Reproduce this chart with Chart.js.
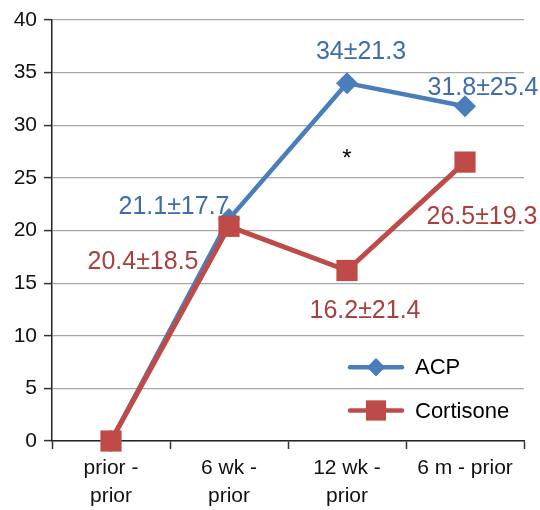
<!DOCTYPE html>
<html>
<head>
<meta charset="utf-8">
<script src="https://cdn.jsdelivr.net/npm/chart.js@4.4.1/dist/chart.umd.min.js"></script>
<style>
  body { margin: 0; background: #fff; }
  #chart { display: block; }
</style>
</head>
<body>
<canvas id="chart" width="540" height="510"></canvas>
<script>
const categories = [['prior -', 'prior'], ['6 wk -', 'prior'], ['12 wk -', 'prior'], '6 m - prior'];
const acpValues = [0, 21.1, 34, 31.8];
const cortisoneValues = [0, 20.4, 16.2, 26.5];
const acpLabels = ['', '21.1±17.7', '34±21.3', '31.8±25.4'];
const cortisoneLabels = ['', '20.4±18.5', '16.2±21.4', '26.5±19.3'];
const yTicks = [0, 5, 10, 15, 20, 25, 30, 35, 40];
const starCategory = 2;   // significance mark at 12 wk
const starValue = 26.8;

const blue = '#4A7EBB';
const red = '#BE4B48';
const blueText = '#3E6DAA';
const redText = '#A8403D';
const fontFamily = '"Liberation Sans", Arial, sans-serif';

// label placement relative to its point (pixels)
const acpOffsets = [null, [-55, -12], [14, -31], [18, -18]];
const cortisoneOffsets = [null, [-86, 36], [18, 41], [17, 55]];

const annotations = {
    id: 'annotations',
    afterDatasetsDraw(chart) {
        const ctx = chart.ctx;
        const x = chart.scales.x;
        const y = chart.scales.y;
        ctx.save();
        ctx.font = '25px ' + fontFamily;
        ctx.textAlign = 'center';
        ctx.textBaseline = 'middle';

        function drawLabels(values, labels, offsets, color) {
            ctx.fillStyle = color;
            values.forEach(function(v, i) {
                if (!labels[i]) return;
                const px = x.getPixelForValue(i) + offsets[i][0];
                const py = y.getPixelForValue(v) + offsets[i][1];
                ctx.fillText(labels[i], px, py);
            });
        }
        drawLabels(acpValues, acpLabels, acpOffsets, blueText);
        drawLabels(cortisoneValues, cortisoneLabels, cortisoneOffsets, redText);

        // asterisk
        ctx.fillStyle = '#000';
        ctx.font = '24px ' + fontFamily;
        ctx.fillText('*', x.getPixelForValue(starCategory), y.getPixelForValue(starValue));

        // legend inside the plot
        const items = [
            { text: 'ACP', color: blue, style: 'rectRot', radius: 9, value: 7.0 },
            { text: 'Cortisone', color: red, style: 'rect', radius: 14, value: 2.9 }
        ];
        const lx1 = 350, lx2 = 402;
        items.forEach(function(it) {
            const py = y.getPixelForValue(it.value);
            ctx.strokeStyle = it.color;
            ctx.lineWidth = 4.5;
            ctx.lineCap = 'round';
            ctx.beginPath();
            ctx.moveTo(lx1, py);
            ctx.lineTo(lx2, py);
            ctx.stroke();
            ctx.fillStyle = it.color;
            Chart.helpers.drawPoint(ctx, { pointStyle: it.style, radius: it.radius, borderWidth: 0 }, (lx1 + lx2) / 2, py);
            ctx.fill();
            ctx.fillStyle = '#000';
            ctx.font = '22px ' + fontFamily;
            ctx.textAlign = 'left';
            ctx.fillText(it.text, 415, py + 1);
        });
        ctx.restore();
    }
};

new Chart(document.getElementById('chart'), {
    type: 'line',
    data: {
        labels: categories,
        datasets: [{
            label: 'ACP',
            data: acpValues,
            borderColor: blue,
            backgroundColor: blue,
            borderWidth: 4.5,
            pointStyle: 'rectRot',
            pointRadius: 11,
            pointHoverRadius: 11,
            pointBorderWidth: 0,
            tension: 0,
            clip: false,
            order: 1
        }, {
            label: 'Cortisone',
            data: cortisoneValues,
            borderColor: red,
            backgroundColor: red,
            borderWidth: 5,
            pointStyle: 'rect',
            pointRadius: 15,
            pointHoverRadius: 15,
            pointBorderWidth: 0,
            tension: 0,
            clip: false,
            order: 0
        }]
    },
    options: {
        responsive: false,
        animation: false,
        layout: { padding: { top: 20, right: 16, left: 0, bottom: 0 } },
        plugins: {
            legend: { display: false },
            tooltip: { enabled: false }
        },
        scales: {
            x: {
                offset: true,
                afterFit: function(s) { s.height = 69; },
                grid: {
                    display: true,
                    offset: true,
                    drawOnChartArea: false,
                    tickLength: 8,
                    tickColor: '#333',
                    tickWidth: 1.5
                },
                border: { color: '#222', width: 1.5 },
                ticks: {
                    color: '#111',
                    padding: 5,
                    maxRotation: 0,
                    autoSkip: false,
                    font: { family: fontFamily, size: 21, lineHeight: 1.35 }
                }
            },
            y: {
                min: 0,
                max: 40,
                afterFit: function(s) { s.width = 52; },
                afterBuildTicks: function(s) { s.ticks = yTicks.map(v => ({ value: v })); },
                grid: {
                    color: '#A6A6A6',
                    lineWidth: 1.2,
                    tickLength: 8,
                    tickColor: '#333',
                    tickWidth: 1.5
                },
                border: { color: '#222', width: 1.5 },
                ticks: {
                    color: '#111',
                    padding: 7,
                    font: { family: fontFamily, size: 21 }
                }
            }
        }
    },
    plugins: [annotations]
});
</script>
</body>
</html>
